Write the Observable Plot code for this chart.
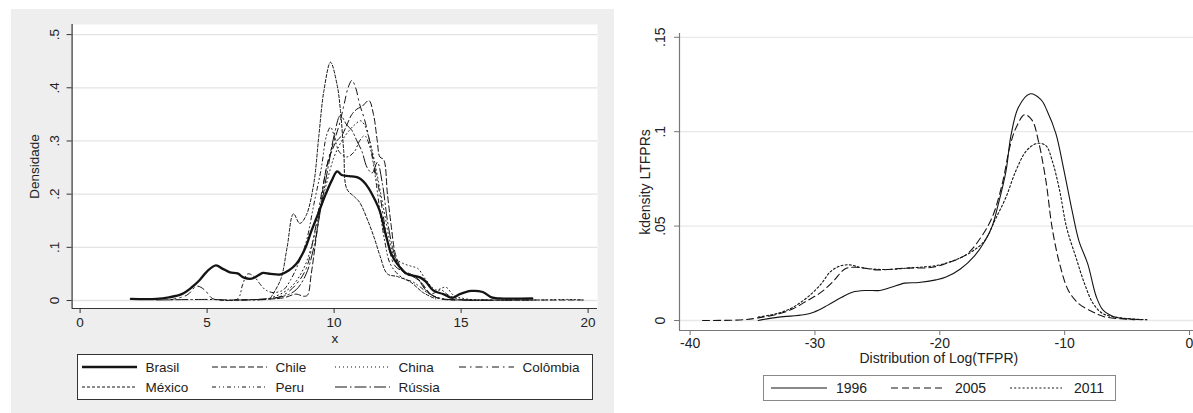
<!DOCTYPE html>
<html><head><meta charset="utf-8">
<script src="https://cdn.jsdelivr.net/npm/d3@7"></script>
<script src="https://cdn.jsdelivr.net/npm/@observablehq/plot@0.6"></script>
<style>
body{margin:0;width:1193px;height:413px;overflow:hidden;background:#fff;position:relative;font-family:"Liberation Sans",Arial,sans-serif;color:#222}
#leftbg{position:absolute;left:11px;top:9px;width:603px;height:404px;background:#eeeeee}
#left{position:absolute;left:0;top:0;width:613px}
#right{position:absolute;left:600px;top:0;width:620px}
#left svg,#right svg{max-width:none !important}
.legend{position:absolute;background:#fff;box-sizing:border-box;font-size:13.5px;color:#222}
.legend .item{position:absolute;display:flex;align-items:center;white-space:nowrap}
.legend svg{display:block}
</style>
</head><body>
<div id="leftbg"></div>
<div id="left"></div>
<div id="right"></div>
<div id="legL" class="legend" style="left:76.5px;top:354px;width:516px;height:46px;border:1.5px solid #333"></div>
<div id="legR" class="legend" style="left:763px;top:375px;width:353px;height:26px;border:1px solid #888"></div>
<script>
// ---------- Left panel data ----------
const countries = ["Brasil","Chile","China","Colômbia","México","Peru","Rússia"];
const brasil = [[2,0.003],[3,0.003],[3.5,0.006],[4,0.012],[4.4,0.025],[4.7,0.038],[5.0,0.055],[5.35,0.066],[5.6,0.06],[5.9,0.053],[6.2,0.051],[6.45,0.043],[6.75,0.041],[7.0,0.047],[7.2,0.052],[7.5,0.05],[7.9,0.049],[8.2,0.056],[8.5,0.068],[8.85,0.097],[9.1,0.13],[9.37,0.163],[9.67,0.2],[9.9,0.225],[10.12,0.243],[10.3,0.236],[10.6,0.234],[10.95,0.231],[11.15,0.224],[11.35,0.212],[11.6,0.19],[11.8,0.168],[12.0,0.13],[12.1,0.112],[12.25,0.088],[12.5,0.068],[12.84,0.051],[13.1,0.047],[13.4,0.043],[13.6,0.036],[13.9,0.019],[14.3,0.012],[14.65,0.005],[14.95,0.012],[15.4,0.018],[15.85,0.016],[16.2,0.006],[16.5,0.004],[17.8,0.004]];
const chile = [[6.0,0.001],[7,0.002],[8,0.005],[8.5,0.012],[8.8,0.008],[8.95,0.01],[9.1,0.05],[9.3,0.12],[9.5,0.19],[9.7,0.25],[9.9,0.28],[10.1,0.3],[10.3,0.31],[10.5,0.33],[10.7,0.35],[10.9,0.36],[11.1,0.365],[11.37,0.376],[11.55,0.35],[11.7,0.3],[11.8,0.27],[11.95,0.265],[12.1,0.2],[12.25,0.14],[12.4,0.09],[12.6,0.065],[12.9,0.05],[13.2,0.045],[13.5,0.03],[13.8,0.012],[14.2,0.003],[15,0.001],[17,0.001],[19.8,0.001]];
const china = [[7.0,0.001],[7.5,0.005],[8.0,0.015],[8.4,0.03],[8.8,0.06],[9.1,0.1],[9.4,0.16],[9.7,0.22],[10.0,0.27],[10.3,0.3],[10.6,0.32],[10.8,0.33],[11.04,0.338],[11.2,0.33],[11.4,0.3],[11.6,0.26],[11.8,0.21],[12.0,0.16],[12.2,0.11],[12.4,0.08],[12.7,0.07],[13.0,0.065],[13.3,0.06],[13.6,0.04],[14.0,0.02],[14.4,0.025],[14.7,0.01],[15.2,0.003],[16,0.001],[18,0.001],[19.3,0.002],[19.8,0.001]];
const colombia = [[3.5,0.001],[4.2,0.01],[4.6,0.027],[4.9,0.02],[5.2,0.004],[5.5,0.001],[6.5,0.001],[7.5,0.003],[8.0,0.01],[8.5,0.03],[8.9,0.06],[9.2,0.12],[9.5,0.2],[9.8,0.27],[10.0,0.3],[10.2,0.33],[10.4,0.37],[10.55,0.4],[10.7,0.414],[10.85,0.4],[11.0,0.37],[11.2,0.34],[11.4,0.3],[11.6,0.25],[11.8,0.2],[12.0,0.14],[12.2,0.09],[12.4,0.065],[12.7,0.055],[13.0,0.05],[13.3,0.04],[13.6,0.02],[14.0,0.006],[14.5,0.002],[16,0.001]];
const mexico = [[7.5,0.005],[7.9,0.04],[8.15,0.1],[8.4,0.163],[8.65,0.145],[8.9,0.16],[9.2,0.22],[9.4,0.31],[9.6,0.395],[9.86,0.448],[10.12,0.405],[10.25,0.357],[10.38,0.28],[10.5,0.21],[10.8,0.195],[11.0,0.185],[11.33,0.15],[11.6,0.115],[11.8,0.085],[12.1,0.05],[12.5,0.045],[13,0.035],[13.5,0.015],[14,0.003]];
const peru = [[5.5,0.001],[6.2,0.003],[6.4,0.03],[6.6,0.05],[6.85,0.045],[7.1,0.03],[7.3,0.02],[7.6,0.015],[8.0,0.02],[8.3,0.04],[8.6,0.07],[8.9,0.11],[9.2,0.18],[9.5,0.25],[9.7,0.31],[9.86,0.326],[10.0,0.31],[10.2,0.28],[10.5,0.27],[10.8,0.28],[11.0,0.3],[11.2,0.31],[11.4,0.29],[11.6,0.24],[11.8,0.17],[12.0,0.11],[12.2,0.07],[12.5,0.05],[12.8,0.04],[13.1,0.035],[13.4,0.025],[13.8,0.012],[14.2,0.02],[14.5,0.01],[15,0.002],[16,0.001]];
const russia = [[3.0,0.001],[5,0.002],[6,0.001],[7,0.002],[8,0.008],[8.5,0.02],[8.9,0.05],[9.2,0.1],[9.5,0.18],[9.8,0.26],[10.0,0.31],[10.25,0.348],[10.5,0.33],[10.7,0.32],[10.9,0.3],[11.1,0.28],[11.3,0.25],[11.5,0.24],[11.7,0.26],[11.9,0.22],[12.1,0.15],[12.3,0.1],[12.5,0.07],[12.8,0.05],[13.1,0.045],[13.4,0.035],[13.7,0.015],[14.2,0.004],[15,0.001],[17.8,0.001]];
const leftValues = [brasil, chile, china, colombia, mexico, peru, russia];
const xTicksL = [0,5,10,15,20];
const yTicksL = [0,0.1,0.2,0.3,0.4,0.5];

// ---------- Right panel data ----------
const years = ["1996","2005","2011"];
const y1996 = [[-34.55,0.0],[-32.9,0.0018],[-30.9,0.003],[-30.1,0.0044],[-29.0,0.008],[-27.85,0.0123],[-27.0,0.015],[-25.9,0.0159],[-24.8,0.0159],[-23.9,0.0176],[-22.8,0.0198],[-21.7,0.0201],[-20.3,0.0215],[-19.5,0.023],[-18.35,0.0273],[-17.2,0.0344],[-16.4,0.042],[-15.8,0.05],[-15.3,0.062],[-14.7,0.079],[-14.3,0.098],[-13.7,0.113],[-12.8,0.12],[-11.9,0.117],[-11.4,0.111],[-10.7,0.099],[-10.1,0.081],[-9.4,0.058],[-8.85,0.042],[-8.15,0.030],[-7.45,0.0123],[-6.9,0.0053],[-6.06,0.002],[-4.94,0.0009],[-3.8,0.0004]];
const y2005 = [[-39,0.0],[-35.7,0.0004],[-34.55,0.0014],[-32.9,0.0035],[-31.76,0.0062],[-30.6,0.0106],[-29.5,0.015],[-28.5,0.021],[-27.6,0.0273],[-26.7,0.0282],[-25.0,0.0268],[-22.8,0.0277],[-20.6,0.0282],[-19.2,0.0309],[-17.8,0.0353],[-16.7,0.0441],[-15.8,0.0547],[-15.0,0.0723],[-14.4,0.0917],[-13.9,0.102],[-13.2,0.109],[-12.6,0.106],[-12.1,0.095],[-11.5,0.074],[-11.0,0.049],[-10.4,0.030],[-9.7,0.0159],[-8.85,0.0088],[-7.7,0.0044],[-6.9,0.0021],[-5.5,0.0009],[-4.4,0.0004]];
const y2011 = [[-34.55,0.0018],[-32.9,0.0039],[-31.76,0.007],[-30.6,0.0123],[-29.5,0.0194],[-28.8,0.0256],[-28.1,0.0286],[-27.3,0.0295],[-26.2,0.0279],[-24.5,0.027],[-22.3,0.0279],[-20.3,0.0291],[-18.9,0.0317],[-17.5,0.0362],[-16.4,0.0423],[-15.6,0.0529],[-14.7,0.0653],[-13.9,0.0794],[-13.05,0.09],[-12.2,0.0938],[-11.5,0.0926],[-11.0,0.0847],[-10.4,0.0688],[-9.85,0.0494],[-9.1,0.0335],[-8.4,0.0194],[-7.7,0.0088],[-6.9,0.0035],[-5.5,0.0014],[-3.4,0.0004]];
const rightValues = [y1996, y2005, y2011];
const xTicksR = [-40,-30,-20,-10,0];
const yTicksR = [0,0.05,0.1,0.15];

// ---------- styles ----------
const leftStyles = {
  "Brasil":   {w:2.3, dash:null},
  "Chile":    {w:1, dash:"6,3"},
  "China":    {w:1, dash:"1,3"},
  "Colômbia": {w:1, dash:"7,4,1.5,4"},
  "México":   {w:1, dash:"3,2"},
  "Peru":     {w:1, dash:"4,3,1,3,1,3"},
  "Rússia":   {w:1, dash:"12,3,1.5,3"}
};
const rightStyles = {
  "1996": {w:1.1, dash:null},
  "2005": {w:1.1, dash:"7,4"},
  "2011": {w:1.1, dash:"2,2.2"}
};
const fmt = d => d === 0 ? "0" : String(d).replace(/^(-?)0\./, "$1.");
const FONT = "'Liberation Sans', Arial, sans-serif";
const LINE = "#141414";

// ---------- Left plot ----------
const leftData = countries.map((c,i) => leftValues[i].map(([x,y]) => ({c, x, y})));
const left = Plot.plot({
  width: 613, height: 350,
  marginLeft: 71.6, marginRight: 16, marginTop: 24, marginBottom: 42,
  style: {background: "transparent", fontFamily: FONT, fontSize: "13px", color: "#222", overflow: "visible", maxWidth: "none"},
  x: {domain: [-0.315, 20.37]},
  y: {domain: [-0.015, 0.519]},
  marks: [
    Plot.frame({fill: "white", stroke: null}),
    Plot.gridY(yTicksL, {stroke: "#e3e3e3", strokeOpacity: 1, strokeWidth: 1.3}),
    Plot.axisX(xTicksL, {tickSize: 5, tickPadding: 4, stroke: "#333", label: null, fontSize: 13.5, tickFormat: d => String(d)}),
    Plot.axisY(yTicksL, {tickSize: 5, stroke: "#333", label: null, tickFormat: () => ""}),
    Plot.text(yTicksL, {y: d => d, text: fmt, frameAnchor: "left", dx: -17.5, rotate: -90, textAnchor: "middle", lineAnchor: "middle", fontSize: 13.5, fill: "#222"}),
    Plot.text(["Densidade"], {text: d => d, frameAnchor: "left", dx: -37.6, rotate: -90, textAnchor: "middle", lineAnchor: "middle", fontSize: 13.5, fill: "#222"}),
    Plot.text(["x"], {text: d => d, frameAnchor: "bottom", dy: 30, textAnchor: "middle", lineAnchor: "middle", fontSize: 13.5, fill: "#222"}),
    Plot.ruleY([-0.015], {stroke: "#333", strokeWidth: 1.2}),
    Plot.ruleX([-0.315], {stroke: "#333", strokeWidth: 1.2}),
    ...countries.map((c,i) => Plot.line(leftData[i], {x: "x", y: "y", stroke: LINE, strokeWidth: leftStyles[c].w, strokeDasharray: leftStyles[c].dash, curve: "catmull-rom"}))
  ]
});
document.getElementById("left").appendChild(left);

// ---------- Right plot ----------
const rightData = years.map((yr,i) => rightValues[i].map(([x,y]) => ({yr, x, y})));
const right = Plot.plot({
  width: 620, height: 370,
  marginLeft: 79, marginRight: 20.4, marginTop: 33, marginBottom: 40,
  style: {background: "transparent", fontFamily: FONT, fontSize: "13px", color: "#222", overflow: "visible", maxWidth: "none"},
  x: {domain: [-40.85, 0.85]},
  y: {domain: [-0.0053, 0.152]},
  marks: [
    Plot.gridY(yTicksR, {stroke: "#e8e8e8", strokeOpacity: 1, strokeWidth: 1.3}),
    Plot.axisX(xTicksR, {tickSize: 5, tickPadding: 3, stroke: "#777", label: null, fontSize: 14, tickFormat: d => String(d)}),
    Plot.axisY(yTicksR, {tickSize: 5, stroke: "#777", label: null, tickFormat: () => ""}),
    Plot.text(yTicksR, {y: d => d, text: fmt, frameAnchor: "left", dx: -18.5, rotate: -90, textAnchor: "middle", lineAnchor: "middle", fontSize: 14, fill: "#222"}),
    Plot.text(["kdensity LTFPRs"], {text: d => d, frameAnchor: "left", dx: -34, rotate: -90, textAnchor: "middle", lineAnchor: "middle", fontSize: 14, fill: "#222"}),
    Plot.text(["Distribution of Log(TFPR)"], {text: d => d, frameAnchor: "bottom", dy: 28, dx: -1, fontSize: 14, textAnchor: "middle", lineAnchor: "middle", fill: "#222"}),
    Plot.ruleY([-0.0053], {stroke: "#777", strokeWidth: 1.2}),
    Plot.ruleX([-40.85], {stroke: "#777", strokeWidth: 1.2}),
    ...years.map((yr,i) => Plot.line(rightData[i], {x: "x", y: "y", stroke: LINE, strokeWidth: rightStyles[yr].w, strokeDasharray: rightStyles[yr].dash, curve: "catmull-rom"}))
  ]
});
document.getElementById("right").appendChild(right);

// ---------- Legends ----------
function swatch(style, len) {
  const ns = "http://www.w3.org/2000/svg";
  const s = document.createElementNS(ns, "svg");
  s.setAttribute("width", len); s.setAttribute("height", 6);
  const l = document.createElementNS(ns, "line");
  l.setAttribute("x1", 0); l.setAttribute("x2", len); l.setAttribute("y1", 3); l.setAttribute("y2", 3);
  l.setAttribute("stroke", LINE); l.setAttribute("stroke-width", style.w);
  if (style.dash) l.setAttribute("stroke-dasharray", style.dash);
  s.appendChild(l);
  return s;
}
const legL = document.getElementById("legL");
const colX = [4, 134, 257, 381];
countries.forEach((c, i) => {
  const it = document.createElement("div");
  it.className = "item";
  it.style.left = colX[i % 4] + "px";
  it.style.top = (i < 4 ? 3 : 23) + "px";
  it.style.height = "18px";
  const sw = swatch(leftStyles[c], 55);
  sw.style.marginRight = "9px";
  it.appendChild(sw);
  const t = document.createElement("span"); t.textContent = c; it.appendChild(t);
  legL.appendChild(it);
});
const legR = document.getElementById("legR");
const colR = [7, 127, 246];
years.forEach((yr, i) => {
  const it = document.createElement("div");
  it.className = "item";
  it.style.left = colR[i] + "px";
  it.style.top = "2px";
  it.style.height = "20px";
  const sw = swatch(rightStyles[yr], i === 0 ? 56 : 52);
  sw.style.marginRight = (i === 0 ? 9 : 12) + "px";
  it.appendChild(sw);
  const t = document.createElement("span"); t.style.fontSize = "14px"; t.textContent = yr; it.appendChild(t);
  legR.appendChild(it);
});
</script>
</body></html>
